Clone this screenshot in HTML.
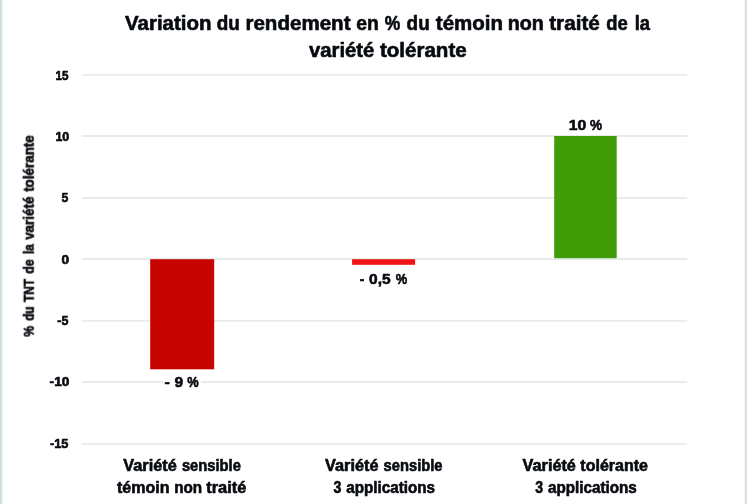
<!DOCTYPE html>
<html lang="fr">
<head>
<meta charset="utf-8">
<title>Variation du rendement en % du témoin non traité de la variété tolérante</title>
<style>
html,body{margin:0;padding:0;background:#fff;}
body{width:747px;height:504px;overflow:hidden;position:relative;font-family:"Liberation Sans",sans-serif;}
svg{display:block;position:absolute;left:0;top:0;}
text{font-family:"Liberation Sans",sans-serif;font-weight:bold;fill:#070a0f;stroke:#070a0f;stroke-width:0.6px;stroke-linejoin:round;}
</style>
</head>
<body>
<svg width="747" height="504" viewBox="0 0 747 504">
  <defs>
    <filter id="soft" x="-5%" y="-5%" width="110%" height="110%" color-interpolation-filters="sRGB">
      <feGaussianBlur stdDeviation="0.4"/>
    </filter>
  </defs>
  <rect x="0" y="0" width="747" height="504" fill="#ffffff"/>
  <rect x="0" y="0" width="1" height="504" fill="#cfe0dc"/>
  <rect x="1" y="0" width="1" height="504" fill="#d6e3e0"/>
  <rect x="2" y="0" width="1" height="504" fill="#eef4f3"/>
  <rect x="744" y="0" width="1" height="504" fill="#f3f7f6"/>
  <rect x="745" y="0" width="1" height="504" fill="#dbe5e2"/>
  <rect x="746" y="0" width="1" height="504" fill="#d1dfdb"/>
  <g stroke="#dde6e3" stroke-width="1.3" fill="none">
    <line x1="81.7" x2="687.2" y1="74.9" y2="74.9"/>
    <line x1="81.7" x2="687.2" y1="136" y2="136"/>
    <line x1="81.7" x2="687.2" y1="198" y2="198"/>
    <line x1="81.7" x2="687.2" y1="259" y2="259"/>
    <line x1="81.7" x2="687.2" y1="320.9" y2="320.9"/>
    <line x1="81.7" x2="687.2" y1="382" y2="382"/>
    <line x1="81.7" x2="687.2" y1="443.9" y2="443.9"/>
  </g>
  <rect x="150.2" y="259.2" width="64" height="110.1" fill="#c70300"/>
  <rect x="352.1" y="259.2" width="63" height="5.6" fill="#f21116"/>
  <rect x="554.2" y="136" width="62.5" height="122.2" fill="#409d07"/>
  <rect x="163" y="374.5" width="38" height="15" fill="#ffffff"/>
  <g filter="url(#soft)">
  <g class="title" font-size="19.4">
    <text y="30.3"><tspan x="125" textLength="86.49" lengthAdjust="spacingAndGlyphs">Variation</tspan> <tspan x="216.8" textLength="23.12" lengthAdjust="spacingAndGlyphs">du</tspan> <tspan x="245.44" textLength="105.08" lengthAdjust="spacingAndGlyphs">rendement</tspan> <tspan x="356.3" textLength="22.54" lengthAdjust="spacingAndGlyphs">en</tspan> <tspan x="384.8" textLength="15.52" lengthAdjust="spacingAndGlyphs">%</tspan> <tspan x="406.6" textLength="23.12" lengthAdjust="spacingAndGlyphs">du</tspan> <tspan x="435.85" textLength="67.14" lengthAdjust="spacingAndGlyphs">témoin</tspan> <tspan x="507.68" textLength="36.18" lengthAdjust="spacingAndGlyphs">non</tspan> <tspan x="549.2" textLength="50.67" lengthAdjust="spacingAndGlyphs">traité</tspan> <tspan x="606.3" textLength="21.49" lengthAdjust="spacingAndGlyphs">de</tspan> <tspan x="634.75" textLength="15.34" lengthAdjust="spacingAndGlyphs">la</tspan></text>
    <text y="57.2"><tspan x="309" textLength="65.37" lengthAdjust="spacingAndGlyphs">variété</tspan> <tspan x="379.9" textLength="86.77" lengthAdjust="spacingAndGlyphs">tolérante</tspan></text>
  </g>
  <g class="cat" font-size="15.7">
    <text y="471.3"><tspan x="123.3" textLength="53.51" lengthAdjust="spacingAndGlyphs">Variété</tspan> <tspan x="181.9" textLength="58.94" lengthAdjust="spacingAndGlyphs">sensible</tspan></text>
    <text y="492.6"><tspan x="117" textLength="52.49" lengthAdjust="spacingAndGlyphs">témoin</tspan> <tspan x="174.23" textLength="27.94" lengthAdjust="spacingAndGlyphs">non</tspan> <tspan x="206.3" textLength="40.01" lengthAdjust="spacingAndGlyphs">traité</tspan></text>
  </g>
  <g class="cat" font-size="15.7">
    <text y="471.3"><tspan x="325" textLength="53.51" lengthAdjust="spacingAndGlyphs">Variété</tspan> <tspan x="383.5" textLength="59.04" lengthAdjust="spacingAndGlyphs">sensible</tspan></text>
    <text y="492.6"><tspan x="333.5" textLength="7.85" lengthAdjust="spacingAndGlyphs">3</tspan> <tspan x="346.3" textLength="88.73" lengthAdjust="spacingAndGlyphs">applications</tspan></text>
  </g>
  <g class="cat" font-size="15.7">
    <text y="471.3"><tspan x="522.6" textLength="53.31" lengthAdjust="spacingAndGlyphs">Variété</tspan> <tspan x="580.3" textLength="67.72" lengthAdjust="spacingAndGlyphs">tolérante</tspan></text>
    <text y="492.6"><tspan x="535.2" textLength="7.85" lengthAdjust="spacingAndGlyphs">3</tspan> <tspan x="548" textLength="88.73" lengthAdjust="spacingAndGlyphs">applications</tspan></text>
  </g>
  <g class="dl" font-size="15.2">
    <text y="387.4"><tspan x="164.4" textLength="5.36" lengthAdjust="spacingAndGlyphs">-</tspan> <tspan x="174.4" textLength="8.66" lengthAdjust="spacingAndGlyphs">9</tspan> <tspan x="187.3" textLength="11.38" lengthAdjust="spacingAndGlyphs">%</tspan></text>
  </g>
  <g class="dl" font-size="15.2">
    <text y="284"><tspan x="359.8" textLength="4.55" lengthAdjust="spacingAndGlyphs">-</tspan> <tspan x="369.1" textLength="21.54" lengthAdjust="spacingAndGlyphs">0,5</tspan> <tspan x="395.7" textLength="11.48" lengthAdjust="spacingAndGlyphs">%</tspan></text>
  </g>
  <g class="dl" font-size="15.2">
    <text y="129.8"><tspan x="568.8" textLength="17.56" lengthAdjust="spacingAndGlyphs">10</tspan> <tspan x="589.9" textLength="12.06" lengthAdjust="spacingAndGlyphs">%</tspan></text>
  </g>
  <g class="tick" font-size="12.6">
    <text y="79.5"><tspan x="55.4" textLength="13" lengthAdjust="spacingAndGlyphs">15</tspan></text>
  </g>
  <g class="tick" font-size="12.6">
    <text y="140.7"><tspan x="55.4" textLength="13.8" lengthAdjust="spacingAndGlyphs">10</tspan></text>
  </g>
  <g class="tick" font-size="12.6">
    <text y="202"><tspan x="61.6" textLength="6.8" lengthAdjust="spacingAndGlyphs">5</tspan></text>
  </g>
  <g class="tick" font-size="12.6">
    <text y="263.5"><tspan x="61.5" textLength="7.6" lengthAdjust="spacingAndGlyphs">0</tspan></text>
  </g>
  <g class="tick" font-size="12.6">
    <text y="324.8"><tspan x="57.3" textLength="11.1" lengthAdjust="spacingAndGlyphs">-5</tspan></text>
  </g>
  <g class="tick" font-size="12.6">
    <text y="386.3"><tspan x="49.6" textLength="19.7" lengthAdjust="spacingAndGlyphs">-10</tspan></text>
  </g>
  <g class="tick" font-size="12.6">
    <text y="447.8"><tspan x="50" textLength="18.4" lengthAdjust="spacingAndGlyphs">-15</tspan></text>
  </g>
  <g class="yl" font-size="14" transform="translate(33.8 336.7) rotate(-90)">
    <text y="0"><tspan x="0" textLength="10.72" lengthAdjust="spacingAndGlyphs">%</tspan> <tspan x="15.9" textLength="14.36" lengthAdjust="spacingAndGlyphs">du</tspan> <tspan x="34.8" textLength="23.02" lengthAdjust="spacingAndGlyphs">TNT</tspan> <tspan x="62.9" textLength="14.51" lengthAdjust="spacingAndGlyphs">de</tspan> <tspan x="82.7" textLength="9.72" lengthAdjust="spacingAndGlyphs">la</tspan> <tspan x="96.9" textLength="43.29" lengthAdjust="spacingAndGlyphs">variété</tspan> <tspan x="144.9" textLength="56.6" lengthAdjust="spacingAndGlyphs">tolérante</tspan></text>
  </g>
  </g>
</svg>
</body>
</html>
